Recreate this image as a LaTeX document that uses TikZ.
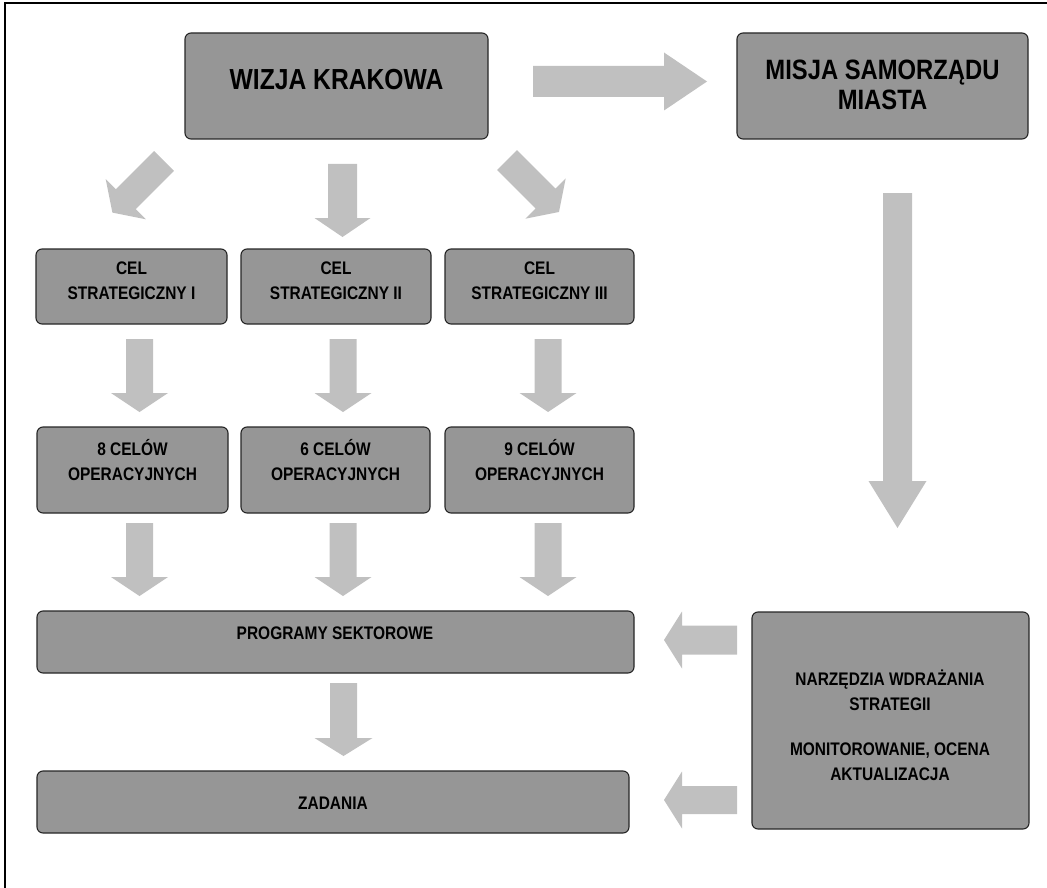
\documentclass[tikz,border=0pt]{standalone}
\usepackage{fontspec}
\setmainfont{Liberation Sans}[FakeStretch=0.85]
\usetikzlibrary{calc}
\definecolor{boxgray}{RGB}{150,150,150}
\definecolor{arrgray}{RGB}{192,192,192}
\newcommand\blockarr[7]{%
  \fill[arrgray, shift={(#1,#2)}, rotate=#3]
    (0,-#5/2) -- (#4-#7,-#5/2) -- (#4-#7,-#6/2) -- (#4,0) --
    (#4-#7,#6/2) -- (#4-#7,#5/2) -- (0,#5/2) -- cycle;}
\begin{document}
\begin{tikzpicture}[x=1pt,y=-1pt,
  box/.style={draw=black!85, line width=1.1pt, fill=boxgray, rounded corners=6pt, inner sep=0pt},
  txt/.style={inner sep=0pt, align=center, font=\bfseries\fontsize{18.2}{25}\selectfont},
  bigtxt/.style={inner sep=0pt, align=center, font=\bfseries\fontsize{28}{30}\selectfont}]
\useasboundingbox (0,0) rectangle (1047,888);
\begin{scope}
\clip (0,0) rectangle (1047,888);
\draw[line width=1.6pt] (5,3) rectangle (1100,950);
\end{scope}
% boxes
\node[box, minimum width=303pt, minimum height=106pt] (wizja) at (336.5,86) {};
\node[box, minimum width=291pt, minimum height=106pt] (misja) at (882.5,86) {};
\node[box, minimum width=191pt, minimum height=75pt] (cel1) at (131.5,286.5) {};
\node[box, minimum width=190pt, minimum height=75pt] (cel2) at (336,286.5) {};
\node[box, minimum width=189pt, minimum height=75pt] (cel3) at (539.5,286.5) {};
\node[box, minimum width=191pt, minimum height=86pt] (op1) at (132.5,470) {};
\node[box, minimum width=189pt, minimum height=86pt] (op2) at (335.5,470) {};
\node[box, minimum width=189pt, minimum height=86pt] (op3) at (539.5,470) {};
\node[box, minimum width=597pt, minimum height=62pt] (prog) at (335.5,642) {};
\node[box, minimum width=592pt, minimum height=62pt] (zad) at (333,802) {};
\node[box, minimum width=277pt, minimum height=217pt] (narz) at (890.5,720.5) {};
% texts
\node[bigtxt, font=\bfseries\fontsize{29}{30}\selectfont] (wizjat) at (336.5,80) {WIZJA KRAKOWA};
\node[bigtxt] (misjat) at (882.5,85) {MISJA SAMORZĄDU\\MIASTA};
\node[txt] (cel1t) at (131.5,281) {CEL\\STRATEGICZNY I};
\node[txt] (cel2t) at (336,281) {CEL\\STRATEGICZNY II};
\node[txt] (cel3t) at (539.5,281) {CEL\\STRATEGICZNY III};
\node[txt] (op1t) at (132.5,460) {8 CELÓW\\OPERACYJNYCH};
\node[txt] (op2t) at (335.5,460) {6 CELÓW\\OPERACYJNYCH};
\node[txt] (op3t) at (539.5,460) {9 CELÓW\\OPERACYJNYCH};
\node[txt] (progt) at (335,633) {PROGRAMY SEKTOROWE};
\node[txt] (zadt) at (333,803) {ZADANIA};
\node[txt] (narzt) at (890,725.5) {NARZĘDZIA WDRAŻANIA\\STRATEGII\\[20pt]MONITOROWANIE, OCENA\\AKTUALIZACJA};
% block arrows
\blockarr{533}{81.5}{0}{174}{31}{58}{43}
\blockarr{164}{161}{-135}{73}{28}{57}{19}
\blockarr{342.5}{164}{-90}{73}{29}{56}{19}
\blockarr{507}{160}{-45}{73.5}{28}{57}{19}
\blockarr{139.5}{339}{-90}{73}{27}{57}{19}
\blockarr{343}{339}{-90}{73}{27}{57}{19}
\blockarr{548}{339}{-90}{73}{27}{57}{19}
\blockarr{139.5}{523}{-90}{73}{27}{57}{19}
\blockarr{343}{523}{-90}{73}{27}{57}{19}
\blockarr{548}{523}{-90}{73}{27}{57}{19}
\blockarr{343.5}{683}{-90}{73}{27}{58}{18}
\blockarr{897.5}{193}{-90}{335}{29}{58}{47}
\blockarr{737}{640}{180}{73}{29}{57}{18}
\blockarr{737}{800}{180}{73}{28}{57}{18}
\end{tikzpicture}
\end{document}
